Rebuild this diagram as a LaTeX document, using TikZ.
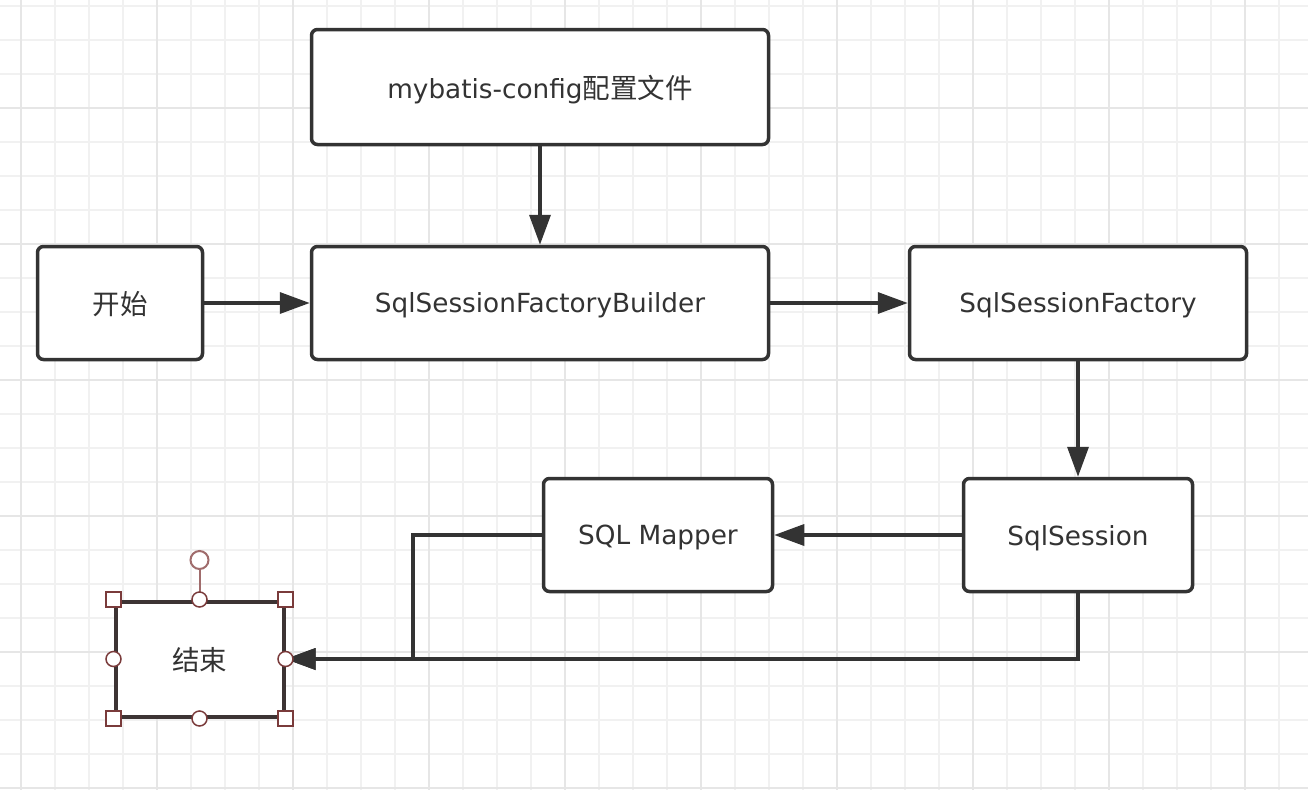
\documentclass[tikz,border=0pt]{standalone}
\usepackage{fontspec}
\setmainfont{DejaVu Sans}
\newfontfamily\cjk{Noto Sans CJK SC}
\usetikzlibrary{arrows.meta}
\definecolor{ink}{HTML}{333333}
\definecolor{gridminor}{HTML}{F1F1F1}
\definecolor{gridmajor}{HTML}{E6E6E6}
\definecolor{selbox}{HTML}{3D3434}
\definecolor{handle}{HTML}{7A3B3B}
\definecolor{rothandle}{HTML}{A06C6C}
\begin{document}
\begin{tikzpicture}[x=1pt,y=-1pt,
  box/.style={draw=ink, line width=3.5pt, rounded corners=6pt, fill=white, text=ink,
    font=\fontsize{26.3}{30}\selectfont, inner sep=0pt, text depth=-2.5pt},
  conn/.style={draw=ink, line width=3.5pt, line join=miter, -{Triangle[length=30pt,width=21pt]}},
  hsq/.style={draw=handle, fill=white, line width=1.5pt, minimum size=15pt, inner sep=0pt},
  hci/.style={draw=handle, fill=white, line width=1.5pt, circle, minimum size=15pt, inner sep=0pt},
  hrot/.style={draw=rothandle, fill=white, line width=2pt, circle, minimum size=18pt, inner sep=0pt}]
\useasboundingbox (0,0) rectangle (1308,790);
\fill[white] (0,0) rectangle (1308,790);
% grid
\foreach \x in {21,55,...,1308} \draw[gridminor, line width=1.5pt] (\x,0) -- (\x,790);
\foreach \y in {6,40,...,790} \draw[gridminor, line width=1.5pt] (0,\y) -- (1308,\y);
\foreach \x in {21,157,...,1308} \draw[gridmajor, line width=1.5pt] (\x,0) -- (\x,790);
\foreach \y in {108,244,...,790} \draw[gridmajor, line width=1.5pt] (0,\y) -- (1308,\y);
% nodes
\node[box, minimum width=457pt, minimum height=115pt] (cfg) at (540,87) {mybatis-config{\cjk\fontsize{27.5}{30}\selectfont 配置文件}};
\node[box, minimum width=165pt, minimum height=113pt] (start) at (120,303) {\cjk\fontsize{27.5}{30}\selectfont 开始};
\node[box, minimum width=457pt, minimum height=113pt] (builder) at (540,303) {SqlSessionFactoryBuilder};
\node[box, minimum width=337pt, minimum height=113pt] (factory) at (1078,303) {SqlSessionFactory};
\node[box, minimum width=229pt, minimum height=113pt] (session) at (1078,535) {SqlSession};
\node[box, minimum width=229pt, minimum height=113pt] (mapper) at (658,535) {SQL Mapper};
\node[box, draw=selbox, line width=4pt, rounded corners=0pt, minimum width=168pt, minimum height=115pt] (end) at (199.5,659) {\cjk\fontsize{27.5}{30}\selectfont 结束};
% connectors
\coordinate (m1) at (413,535);
\draw[conn] (cfg.south) -- (builder.north);
\draw[conn] (start.east) -- (builder.west);
\draw[conn] (builder.east) -- (factory.west);
\draw[conn] (factory.south) -- (session.north);
\draw[conn] (session.west) -- (mapper.east);
\draw[conn] (mapper.west) -- (m1) |- (end.east);
\draw[conn] (session.south) |- (end.east);
% selection handles
\node[hrot] (rh) at (199.5,560) {};
\draw[rothandle, line width=2pt] (rh.south) -- (end.north);
\node[hsq] (h1) at (end.north west) {};
\node[hsq] (h2) at (end.north east) {};
\node[hsq] (h3) at (end.south west) {};
\node[hsq] (h4) at (end.south east) {};
\node[hci] (h5) at (end.north) {};
\node[hci] (h6) at (end.south) {};
\node[hci] (h7) at (end.west) {};
\node[hci] (h8) at (end.east) {};
\end{tikzpicture}
\end{document}
